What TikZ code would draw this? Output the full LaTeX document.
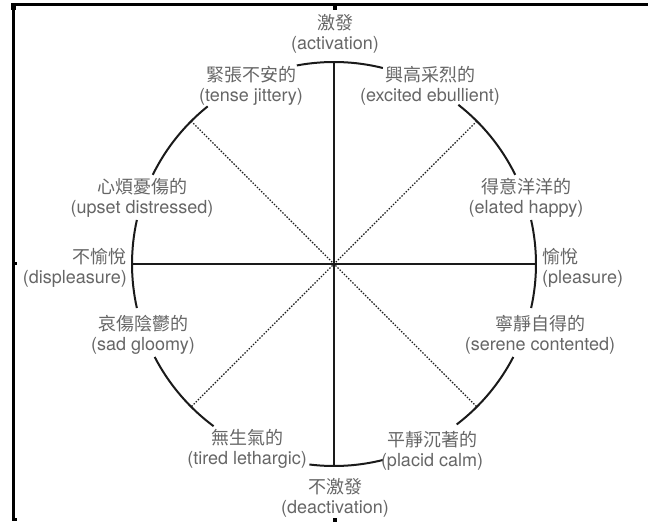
\documentclass[tikz,border=0pt]{standalone}
\usepackage{fontspec}
\usetikzlibrary{calc}
\setmainfont{TeX Gyre Heros}
\newfontfamily\cjkfont{Noto Sans CJK TC}
\definecolor{labelgray}{HTML}{666666}
\definecolor{linecol}{HTML}{1A1A1A}
\begin{document}
\begin{tikzpicture}[x=1pt,y=1pt,
  lbl/.style={text=labelgray, font=\fontsize{18}{20}\selectfont, align=center, inner sep=0pt},
  rim/.style={line width=2pt, draw=linecol},
  axis/.style={line width=1.6pt, draw=linecol},
  diag/.style={line width=1.1pt, draw=linecol, dash pattern=on 1.5pt off 1.5pt},
  frameline/.style={draw=black, line width=3pt}]
\useasboundingbox (0,0) rectangle (648,522);
% frame
\draw[frameline] (11,517) -- (648,517);
\draw[frameline] (13.5,518) -- (13.5,1);
\fill (11,512) rectangle (16,518);
\fill (13,257) rectangle (16.5,260);
\fill (333,512) rectangle (337,517);
\fill (333,0) rectangle (336.5,4);
\fill (13,1) rectangle (16.5,4);
% circle centre
\coordinate (c) at (334,258);
\coordinate (n) at ($(c)+(90:202)$);
\coordinate (s) at ($(c)+(270:202)$);
\coordinate (e) at ($(c)+(0:202)$);
\coordinate (w) at ($(c)+(180:202)$);
\coordinate (ne) at ($(c)+(45:202)$);
\coordinate (nw) at ($(c)+(135:202)$);
\coordinate (se) at ($(c)+(-45:202)$);
\coordinate (sw) at ($(c)+(225:202)$);
% axes
\draw[axis] (n) -- (s);
\draw[axis] (w) -- (e);
\draw[diag] (nw) -- (se);
\draw[diag] (ne) -- (sw);
% rim arcs
\foreach \a/\b in {76/100.6, 128.7/153.8, 167.4/192.6, 207.4/233.4, 263/284, 307.4/332.6, 347.4/372.6, 386.2/412}{
  \draw[rim] ([shift={(\a:202)}]c) arc[start angle=\a, end angle=\b, radius=202];
}
% labels
\node[lbl] (act) at (335,488) {{\cjkfont 激發}\\(activation)};
\node[lbl] (tense) at (251,436) {{\cjkfont 緊張不安的}\\(tense jittery)};
\node[lbl] (excited) at (430,436) {{\cjkfont 興高采烈的}\\(excited ebullient)};
\node[lbl] (elated) at (526,324) {{\cjkfont 得意洋洋的}\\(elated happy)};
\node[lbl, anchor=west, align=left] (pleas) at (542,254) {{\cjkfont 愉悅}\\(pleasure)};
\node[lbl] (serene) at (540,187) {{\cjkfont 寧靜自得的}\\(serene contented)};
\node[lbl] (placid) at (432,71) {{\cjkfont 平靜沉著的}\\(placid calm)};
\node[lbl] (deact) at (335,24) {{\cjkfont 不激發}\\(deactivation)};
\node[lbl] (tired) at (247,73) {{\cjkfont 無生氣的}\\(tired lethargic)};
\node[lbl] (sad) at (143,187) {{\cjkfont 哀傷陰鬱的}\\(sad gloomy)};
\node[lbl, anchor=east, align=right] (displ) at (127,254) {{\cjkfont 不愉悅}\\(displeasure)};
\node[lbl] (upset) at (142,324) {{\cjkfont 心煩憂傷的}\\(upset distressed)};
\end{tikzpicture}
\end{document}
